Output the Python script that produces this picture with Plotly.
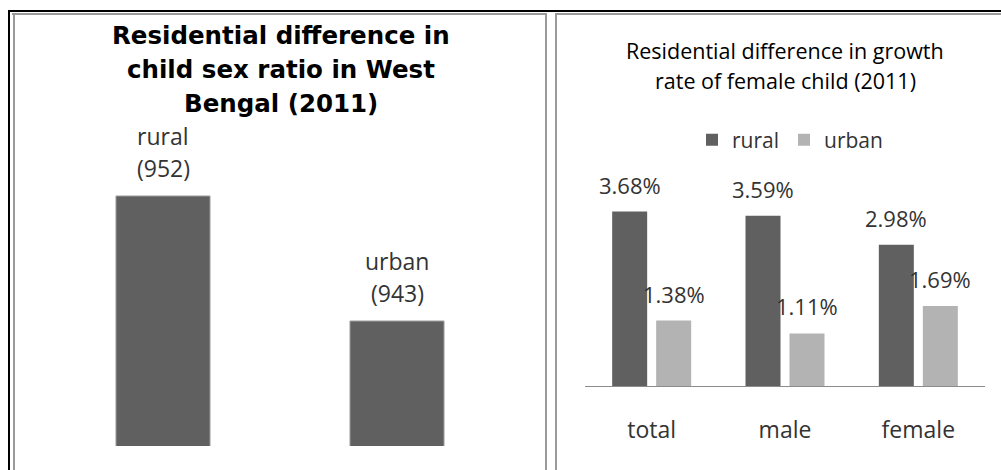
import plotly.graph_objects as go

W, H = 1001, 470

# ---- data ----
left_title = ["Residential difference in", "child sex ratio in West", "Bengal (2011)"]
left_cats = ["rural", "urban"]
left_vals = [952, 943]

right_title = ["Residential difference in growth", "rate of female child (2011)"]
right_cats = ["total", "male", "female"]
series_names = ["rural", "urban"]
rural_vals = [3.68, 3.59, 2.98]
urban_vals = [1.38, 1.11, 1.69]


def fx(p):
    return p / W


def fy(p):
    return 1 - p / H


LABEL_FONT = "Open Sans"
DARK = "#606060"
LIGHT = "#b3b3b3"

fig = go.Figure()

# left chart
fig.add_trace(go.Bar(
    x=left_cats, y=left_vals, width=0.402,
    marker=dict(color=DARK, line=dict(color="#a0a0a0", width=1)),
    xaxis="x", yaxis="y", showlegend=False, hoverinfo="skip",
))

# right chart
for name, vals, col in [(series_names[0], rural_vals, DARK), (series_names[1], urban_vals, LIGHT)]:
    fig.add_trace(go.Bar(
        x=right_cats, y=vals, name=name,
        marker=dict(color=col, line=dict(width=0)),
        xaxis="x2", yaxis="y2", hoverinfo="skip",
    ))

annotations = []
# left title
for i, line in enumerate(left_title):
    annotations.append(dict(
        text=line, xref="paper", yref="paper", x=fx(281), y=fy(35 + 34 * i),
        xanchor="center", yanchor="middle", showarrow=False,
        font=dict(family="DejaVu Sans", size=24.5, color="#000000", weight="bold"),
    ))
# left bar labels
for cat, v in zip(left_cats, left_vals):
    annotations.append(dict(
        text=cat, xref="x", yref="y", x=cat, y=v, yshift=60,
        xanchor="center", yanchor="middle", showarrow=False,
        font=dict(family=LABEL_FONT, size=23, color="#333333"),
    ))
    annotations.append(dict(
        text=f"({v})", xref="x", yref="y", x=cat, y=v, yshift=28,
        xanchor="center", yanchor="middle", showarrow=False,
        font=dict(family=LABEL_FONT, size=23, color="#333333"),
    ))
# right title
for i, line in enumerate(right_title):
    annotations.append(dict(
        text=line, xref="paper", yref="paper", x=fx(785), y=fy(50 + 30 * i),
        xanchor="center", yanchor="middle", showarrow=False,
        font=dict(family=LABEL_FONT, size=21.5, color="#000000"),
    ))
# right data labels
for vals, dx in [(rural_vals, -22), (urban_vals, 22)]:
    for cat, v in zip(right_cats, vals):
        annotations.append(dict(
            text=f"{v:.2f}%", xref="x2", yref="y2", x=cat, y=v,
            xshift=dx, yshift=27,
            xanchor="center", yanchor="middle", showarrow=False,
            font=dict(family=LABEL_FONT, size=22, color="#333333"),
        ))

shapes = []


def hline(y, x0, x1, color, w):
    shapes.append(dict(type="line", xref="paper", yref="paper",
                       x0=fx(x0), x1=fx(x1), y0=fy(y), y1=fy(y),
                       line=dict(color=color, width=w)))


def vline(x, y0, y1, color, w):
    shapes.append(dict(type="line", xref="paper", yref="paper",
                       x0=fx(x), x1=fx(x), y0=fy(y0), y1=fy(y1),
                       line=dict(color=color, width=w)))


# frame
hline(11, 8, 1001, "#000000", 2)
vline(9, 10, 470, "#000000", 2)
hline(14, 12, 547, "#9a9a9a", 2)
hline(14, 555, 1001, "#9a9a9a", 2)
vline(14, 13, 470, "#9a9a9a", 2)
vline(546, 13, 470, "#9a9a9a", 2)
vline(556, 13, 470, "#9a9a9a", 2)

fig.update_layout(
    width=W, height=H,
    margin=dict(l=0, r=0, t=0, b=0),
    paper_bgcolor="white", plot_bgcolor="white",
    barmode="group", bargap=0.34, bargroupgap=0.2045,
    xaxis=dict(domain=[fx(46), fx(514)], visible=False, anchor="y"),
    yaxis=dict(domain=[fy(446), fy(168.2)], range=[934, 954], visible=False, anchor="x"),
    xaxis2=dict(domain=[fx(585), fx(985)], anchor="y2", showline=True,
                linecolor="#8c8c8c", linewidth=1, ticks="", showgrid=False,
                zeroline=False, ticklabelstandoff=23,
                tickfont=dict(family=LABEL_FONT, size=23, color="#333333")),
    yaxis2=dict(domain=[fy(386), fy(196.4)], range=[0, 4], visible=False, anchor="x2"),
    showlegend=True,
    legend=dict(orientation="h", x=fx(790), xanchor="center", y=fy(140), yanchor="middle",
                font=dict(family=LABEL_FONT, size=21, color="#333333"),
                bgcolor="rgba(0,0,0,0)", borderwidth=0, itemwidth=30,
                itemclick=False, itemdoubleclick=False),
    annotations=annotations,
    shapes=shapes,
)

fig.write_html("out.html")
